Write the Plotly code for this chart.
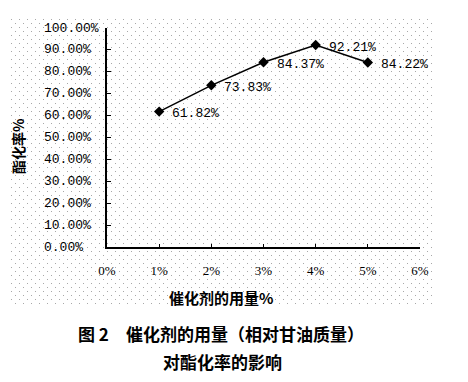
import base64
import plotly.graph_objects as go

# Data
dosage = [1, 2, 3, 4, 5]                          # catalyst dosage, %
conversion = [61.82, 73.83, 84.37, 92.21, 84.22]  # esterification rate, %
point_labels = ["61.82%", "73.83%", "84.37%", "92.21%", "84.22%"]
y_ticks = [0, 10, 20, 30, 40, 50, 60, 70, 80, 90, 100]
y_tick_text = ["0.00%", "10.00%", "20.00%", "30.00%", "40.00%", "50.00%",
               "60.00%", "70.00%", "80.00%", "90.00%", "100.00%"]
x_ticks = [0, 1, 2, 3, 4, 5, 6]
x_tick_text = ["0%", "1%", "2%", "3%", "4%", "5%", "6%"]

# page body has an 8px default margin; work in page pixels and shift
OFF = 8
W, H = 468 - 2 * OFF, 382 - 2 * OFF
L, T = 107 - OFF, 28 - OFF
R = W - (420 - OFF)
B = H - (247 - OFF)
pw, ph = W - L - R, H - T - B


def px_x(x):  # page x -> paper x
    return (x - OFF - L) / pw


def px_y(y):  # page y -> paper y
    return 1 - (y - OFF - T) / ph


# dotted background pattern
bg_x0, bg_x1, bg_y0, bg_y1 = 10, 432, 18, 304
bw, bh = bg_x1 - bg_x0, bg_y1 - bg_y0
svg = (
    '<svg xmlns="http://www.w3.org/2000/svg" width="%d" height="%d">'
    '<defs><pattern id="p" width="8" height="8" patternUnits="userSpaceOnUse">'
    '<rect x="1" y="1" width="1" height="1" fill="#a8a8a8"/>'
    '<rect x="5" y="5" width="1" height="1" fill="#a8a8a8"/>'
    '</pattern></defs><rect width="100%%" height="100%%" fill="url(#p)"/></svg>'
) % (bw, bh)
src = "data:image/svg+xml;base64," + base64.b64encode(svg.encode()).decode()

mono = "Liberation Mono, DejaVu Sans Mono, monospace"
serif = "Liberation Serif, DejaVu Serif, serif"
cjk = "Noto Sans CJK SC, sans-serif"

fig = go.Figure()
fig.add_trace(go.Scatter(
    x=dosage, y=conversion, mode="lines+markers",
    line=dict(color="black", width=1.5),
    marker=dict(symbol="diamond", size=8, color="black"),
    cliponaxis=False, showlegend=False,
))

annotations = []
# point value labels
for xv, yv, t in zip(dosage, conversion, point_labels):
    annotations.append(dict(
        x=xv, y=yv, xref="x", yref="y", text=t, showarrow=False,
        xanchor="left", yanchor="middle", xshift=11, yshift=-2,
        font=dict(family=mono, size=13, color="black"),
    ))
# y tick labels (left aligned as in the reference)
for v, t in zip(y_ticks, y_tick_text):
    annotations.append(dict(
        x=px_x(42), y=v, xref="paper", yref="y", text=t, showarrow=False,
        xanchor="left", yanchor="middle",
        font=dict(family=mono, size=13, color="black"),
    ))
annotations += [
    dict(text="<b>酯化率%</b>", xref="paper", yref="paper",
         x=px_x(18), y=px_y(146), textangle=-90,
         xanchor="center", yanchor="middle",
         showarrow=False, font=dict(family=cjk, size=14, color="black")),
    dict(text="<b>催化剂的用量%</b>", xref="paper", yref="paper",
         x=px_x(221), y=px_y(297), xanchor="center", yanchor="middle",
         showarrow=False, font=dict(family=cjk, size=15, color="black")),
    dict(text="<b>图 2　催化剂的用量（相对甘油质量）</b>", xref="paper", yref="paper",
         x=px_x(221), y=px_y(333), xanchor="center", yanchor="middle",
         showarrow=False, font=dict(family=cjk, size=17, color="black")),
    dict(text="<b>对酯化率的影响</b>", xref="paper", yref="paper",
         x=px_x(222), y=px_y(361), xanchor="center", yanchor="middle",
         showarrow=False, font=dict(family=cjk, size=17, color="black")),
]

fig.update_layout(
    width=W, height=H,
    margin=dict(l=L, r=R, t=T, b=B, pad=0, autoexpand=False),
    paper_bgcolor="white", plot_bgcolor="rgba(0,0,0,0)",
    images=[dict(
        source=src, xref="paper", yref="paper",
        x=px_x(bg_x0), y=px_y(bg_y0),
        sizex=bw / pw, sizey=bh / ph,
        xanchor="left", yanchor="top", sizing="stretch", layer="below",
    )],
    xaxis=dict(
        range=[0, 6], tickvals=x_ticks, ticktext=x_tick_text,
        showgrid=False, zeroline=False, showline=True,
        linecolor="black", linewidth=2,
        ticks="inside", ticklen=3, tickcolor="black", tickwidth=1,
        tickfont=dict(family=serif, size=13, color="black"),
        ticklabelstandoff=10,
    ),
    yaxis=dict(
        range=[0, 100], tickvals=y_ticks, showticklabels=False,
        showgrid=False, zeroline=False, showline=True,
        linecolor="black", linewidth=2,
        ticks="inside", ticklen=4, tickcolor="black", tickwidth=1,
    ),
    annotations=annotations,
)

fig.write_html("out.html")
